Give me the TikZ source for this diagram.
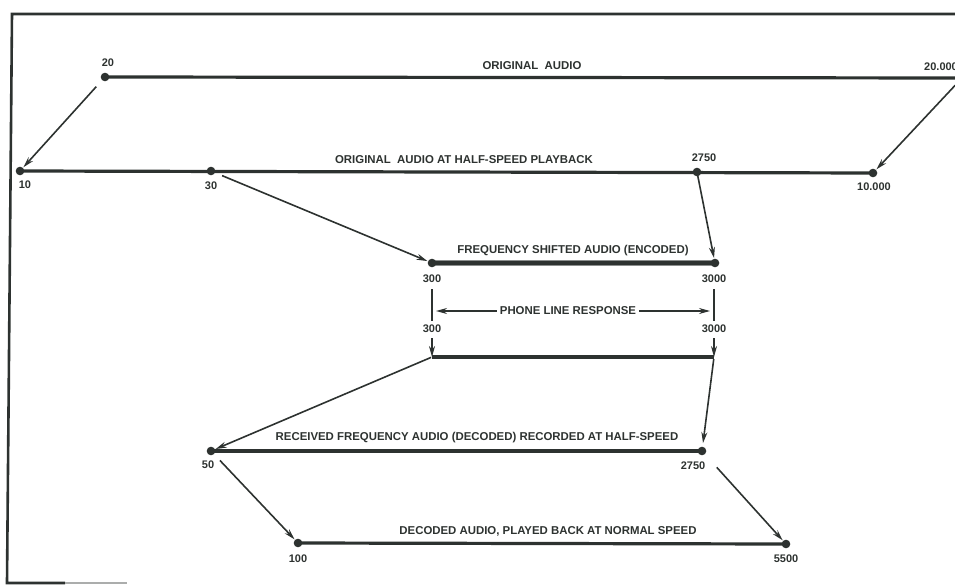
\documentclass[tikz,border=0pt]{standalone}
\usepackage{fontspec}
\setmainfont{Liberation Sans}
\usetikzlibrary{arrows.meta}
\definecolor{ink}{RGB}{45,50,48}
\tikzset{
  band/.style={draw=ink, line width=3.2pt},
  conn/.style={draw=ink, line width=1.6pt, -{Stealth[length=11pt,width=6pt]}},
  dotc/.style={fill=ink},
  lbl/.style={text=ink, font=\fontsize{11.4}{13}\selectfont\bfseries, inner sep=0pt},
  num/.style={text=ink, font=\fontsize{11}{13}\selectfont\bfseries, inner sep=0pt},
}
\begin{document}
\begin{tikzpicture}[x=1pt,y=-1pt]
\useasboundingbox (0,0) rectangle (955,585);
% frame
\draw[ink, line width=2.6pt] (955,14) -- (12,14) -- (7,583) -- (65,583);
\draw[ink!40, line width=1.8pt] (65,583) -- (127,583);
% points
\coordinate (a20) at (105,77);
\coordinate (a20k) at (962,78);
\coordinate (b10) at (20,171);
\coordinate (b30) at (211,171);
\coordinate (b2750) at (697,172);
\coordinate (b10k) at (873,173);
\coordinate (c300) at (432,263);
\coordinate (c3000) at (715,263);
\coordinate (p300t) at (432,289);
\coordinate (p300b) at (432,321);
\coordinate (p3000t) at (714,289);
\coordinate (p3000b) at (714,321);
\coordinate (q300) at (432,338);
\coordinate (q3000) at (714,338);
\coordinate (d300) at (432,357);
\coordinate (d3000) at (714,357);
\coordinate (e50) at (211,451);
\coordinate (e2750) at (702,451);
\coordinate (f100) at (298,543);
\coordinate (f5500) at (786,544);
% bands
\draw[band] (a20) -- (a20k);
\draw[band] (b10) -- (b10k);
\draw[draw=ink!55, line width=5.5pt] (c300) -- (c3000);
\draw[band] (c300) -- (c3000);
\draw[band] (d300) -- (d3000);
\draw[band] (e50) -- (e2750);
\draw[band] (f100) -- (f5500);
% dots
\foreach \p in {a20,a20k,b10,b30,b2750,b10k,c300,c3000,e50,e2750,f100,f5500}
  \fill[dotc] (\p) circle (4.3pt);
% connectors
\draw[conn, shorten <=13pt, shorten >=5pt] (a20) -- (b10);
\draw[conn, shorten <=10pt, shorten >=5pt] (a20k) -- (b10k);
\draw[conn, shorten <=12pt, shorten >=5pt] (b30) -- (c300);
\draw[conn, shorten <=2pt, shorten >=5pt] (b2750) -- (c3000);
\draw[ink, line width=1.6pt] (p300t) -- (p300b);
\draw[ink, line width=1.6pt] (p3000t) -- (p3000b);
\draw[conn] (q300) -- (d300);
\draw[conn] (q3000) -- (d3000);
\draw[conn, shorten <=1pt, shorten >=5pt] (d300) -- (e50);
\draw[conn, shorten <=2pt, shorten >=8pt] (d3000) -- (e2750);
\draw[conn, shorten <=13pt, shorten >=5pt] (e50) -- (f100);
\draw[conn, shorten <=22pt, shorten >=5pt] (e2750) -- (f5500);
% phone line response
\node[lbl] (plr) at (568,311) {PHONE LINE RESPONSE};
\coordinate (pl) at ([xshift=-3pt]plr.west);
\coordinate (pr) at ([xshift=3pt]plr.east);
\coordinate (plt) at (436,311);
\coordinate (prt) at (710,311);
\draw[conn, line width=1.4pt] (pl) -- (plt);
\draw[conn, line width=1.4pt] (pr) -- (prt);
% labels
\node[lbl] (t1) at (532,66) {ORIGINAL\ \ AUDIO};
\node[lbl] (t2) at (464,160) {ORIGINAL\ \ AUDIO AT HALF-SPEED PLAYBACK};
\node[lbl] (t3) at (573,251) {FREQUENCY SHIFTED AUDIO (ENCODED)};
\node[lbl] (t5) at (477,438) {RECEIVED FREQUENCY AUDIO (DECODED) RECORDED AT HALF-SPEED};
\node[lbl] (t6) at (548,531) {DECODED AUDIO, PLAYED BACK AT NORMAL SPEED};
% numbers
\node[num] (n20) at (108,63) {20};
\node[num, anchor=west] (n20k) at (924,67) {20.000};
\node[num] (n10) at (25,185) {10};
\node[num] (n30) at (211,186) {30};
\node[num] (n2750a) at (704,158) {2750};
\node[num] (n10k) at (874,187) {10.000};
\node[num] (n300a) at (432,279) {300};
\node[num] (n3000a) at (714,279) {3000};
\node[num] (n300b) at (432,329) {300};
\node[num] (n3000b) at (714,329) {3000};
\node[num] (n50) at (208,465) {50};
\node[num] (n2750b) at (693,466) {2750};
\node[num] (n100) at (298,559) {100};
\node[num] (n5500) at (786,559) {5500};
\end{tikzpicture}
\end{document}
